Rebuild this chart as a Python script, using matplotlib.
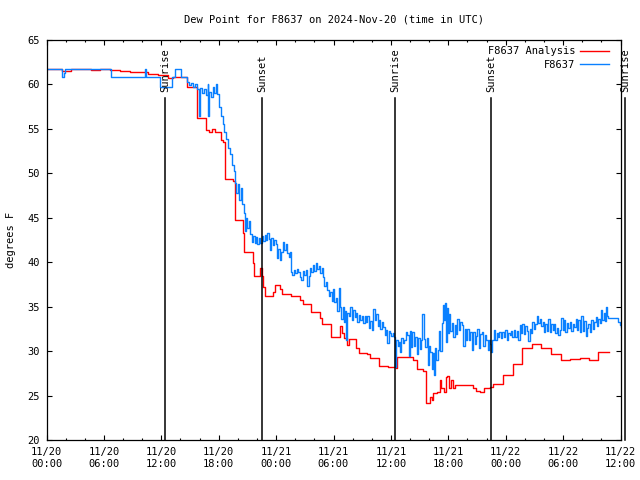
import numpy as np
import pandas as pd
import matplotlib
matplotlib.use("Agg")
import matplotlib.pyplot as plt
import matplotlib.dates as mdates

# ---------------- data (hours after 2024-11-20 00:00 UTC) ----------------
analysis_hours = [0, 1.6, 2.6, 4.7, 5.6, 6.65, 7.7, 8.7, 10.6, 11.65, 12.7, 13.2,
                  14.7, 15.7, 16.7, 17.0, 17.3, 17.6, 18.2, 18.4, 18.66, 19.5, 19.7,
                  20.57, 20.67, 21.55, 21.69, 22.3, 22.5, 22.6, 22.84, 23.7, 23.9,
                  24.4, 24.6, 25.6, 26.5, 26.8, 27.7, 28.6, 28.76, 29.7, 30.7, 30.9,
                  31.05, 31.4, 31.65, 32.4, 32.7, 33.5, 33.8, 34.8, 35.7, 36.5, 36.65,
                  38.3, 38.7, 39.4, 39.67, 40.1, 40.25, 40.4, 40.8, 41.1, 41.2, 41.5,
                  41.76, 41.9, 42.1, 42.3, 42.5, 42.7, 44.6, 44.9, 45.3, 45.7, 46.36,
                  46.7, 47.7, 48.75, 49.7, 50.75, 51.7, 52.7, 53.75, 54.75, 55.75,
                  56.7, 57.7, 58.8]
analysis_vals = [61.74, 61.55, 61.74, 61.67, 61.74, 61.62, 61.55, 61.36, 61.21, 61.03, 60.69, 60.8,
                 59.67, 56.2, 54.88, 54.7, 55.0, 54.7, 53.7, 53.56, 49.36, 49.1, 44.75,
                 43.25, 41.19, 39.88, 38.45, 39.3, 38.45, 37.25, 36.2, 36.6, 37.4,
                 37.0, 36.42, 36.2, 35.75, 35.3, 34.43, 33.7, 33.05, 31.6, 32.8, 32.0,
                 31.44, 30.69, 31.33, 30.3, 29.75, 29.7, 29.19, 28.33, 28.25, 28.1, 29.3,
                 29.0, 27.95, 27.8, 24.2, 24.8, 24.5, 25.3, 25.4, 26.75, 25.8, 25.4,
                 27.1, 27.2, 25.8, 26.75, 25.8, 26.15, 25.9, 25.5, 25.4, 25.9, 26.0,
                 26.3, 27.3, 28.6, 30.3, 30.8, 30.4, 29.7, 29.0, 29.1, 29.2,
                 29.0, 29.9, 29.9]

station_hours = [0, 1.65, 1.8, 1.9, 6.7, 10.3, 10.4, 11.85, 13.1, 13.4, 14.1,
                 14.7, 14.9, 15.1, 15.3, 15.5, 15.7, 15.95, 16.05, 16.25, 16.45, 16.65, 16.85,
                 16.9, 17.0, 17.2, 17.4, 17.55, 17.7, 17.85, 18.0, 18.2, 18.4, 18.6, 18.8,
                 19.0, 19.2, 19.4, 19.55, 19.7, 19.85, 20.0, 20.15, 20.3, 20.45, 20.6, 20.7,
                 20.85, 21.0, 21.15, 21.3, 21.45, 21.6, 21.75, 21.9, 22.05, 22.2, 22.35,
                 22.5, 22.65, 22.8, 22.95, 23.1, 23.25, 23.4, 23.5, 23.65, 23.8, 23.95,
                 24.1, 24.25, 24.4, 24.55, 24.7, 24.85, 25.0, 25.15, 25.3, 25.45, 25.55,
                 25.7, 25.85, 26.0, 26.15, 26.3, 26.5, 26.65, 26.8, 26.95, 27.1, 27.25,
                 27.4, 27.55, 27.7, 27.85, 28.0, 28.15, 28.3, 28.45, 28.6, 28.75, 28.9,
                 29.05, 29.2, 29.35, 29.5, 29.65, 29.8, 29.95, 30.1, 30.25, 30.4, 30.55,
                 30.65, 30.8, 30.95, 31.1, 31.25, 31.35, 31.45, 31.6, 31.75, 31.9, 32.05,
                 32.2, 32.35, 32.5, 32.65, 32.8, 32.95, 33.1, 33.25, 33.4, 33.55, 33.7,
                 33.85, 34.0, 34.15, 34.3, 34.45, 34.6, 34.75, 34.9, 35.05, 35.2, 35.35,
                 35.5, 35.6, 35.75, 35.9, 36.05, 36.2, 36.35, 36.45, 36.55, 36.7, 36.85,
                 37.0, 37.1, 37.25, 37.4, 37.55, 37.7, 37.85, 37.95, 38.1, 38.25, 38.4,
                 38.55, 38.7, 38.85, 39.0, 39.15, 39.3, 39.45, 39.6, 39.75, 39.85, 39.95,
                 40.1, 40.25, 40.4, 40.5, 40.6, 40.75, 40.9, 41.0, 41.15, 41.3, 41.45,
                 41.55, 41.65, 41.75, 41.85, 41.95, 42.05, 42.2, 42.35, 42.5, 42.65, 42.8,
                 42.95, 43.1, 43.25, 43.4, 43.55, 43.7, 43.85, 44.0, 44.15, 44.3, 44.45,
                 44.6, 44.75, 44.9, 45.05, 45.2, 45.35, 45.5, 45.65, 45.8, 45.95, 46.1,
                 46.25, 46.4, 46.5, 46.6, 46.75, 46.9, 47.05, 47.2, 47.35, 47.5, 47.65,
                 47.8, 47.95, 48.1, 48.25, 48.4, 48.55, 48.7, 48.85, 49.0, 49.15, 49.3,
                 49.45, 49.6, 49.75, 49.9, 50.05, 50.2, 50.35, 50.5, 50.65, 50.8, 50.95,
                 51.1, 51.25, 51.4, 51.55, 51.7, 51.85, 52.0, 52.15, 52.3, 52.45, 52.6,
                 52.75, 52.9, 53.05, 53.2, 53.35, 53.5, 53.65, 53.8, 53.95, 54.1, 54.25,
                 54.4, 54.55, 54.7, 54.85, 55.0, 55.15, 55.3, 55.45, 55.6, 55.75, 55.9,
                 56.05, 56.2, 56.35, 56.5, 56.65, 56.8, 56.95, 57.1, 57.25, 57.4, 57.55,
                 57.7, 57.85, 58.0, 58.1, 58.25, 58.4, 58.5, 58.6, 58.7, 59.75, 59.9, 60.0]
station_vals = [61.74, 60.8, 61.25, 61.74, 60.8, 61.74, 60.8, 59.75, 60.8, 61.74, 60.8,
                60.3, 59.9, 60.2, 59.7, 60.1, 59.5, 56.4, 59.6, 59.0, 59.5, 58.8, 60.1,
                56.5, 59.2, 58.6, 59.7, 59.0, 60.0, 58.9, 57.5, 56.4, 55.5, 54.6, 53.9,
                52.8, 52.2, 50.9, 50.3, 48.9, 47.8, 48.8, 47.0, 48.4, 46.6, 45.5, 43.5,
                45.0, 43.8, 44.6, 43.2, 42.3, 43.0, 42.2, 42.8, 42.0, 42.7, 42.2,
                42.9, 42.4, 43.1, 42.5, 43.3, 42.6, 41.4, 42.7, 41.9, 42.5, 42.0,
                40.5, 41.5, 40.25, 41.2, 42.3, 41.4, 42.0, 41.0, 40.6, 41.1, 38.9,
                38.6, 39.1, 38.8, 39.2, 38.9, 38.3, 38.0, 39.0, 38.6, 39.1, 37.3,
                38.5, 39.4, 38.9, 39.7, 39.0, 39.9, 39.2, 39.6, 38.8, 39.3, 38.3,
                37.3, 37.8, 36.9, 36.2, 36.6, 35.6, 37.0, 35.5, 36.0, 34.5, 37.1,
                35.0, 33.6, 35.0, 33.3, 34.5, 31.3, 34.3, 33.9, 35.0, 33.5, 34.6,
                33.8, 34.3, 33.3, 34.1, 33.5, 34.0, 33.2, 33.9, 33.3, 33.9, 32.6,
                33.4, 32.4, 34.7, 33.5, 34.2, 32.8, 33.5, 32.5, 33.3, 32.7, 31.8,
                32.4, 30.9, 32.3, 32.0, 31.7, 32.0, 31.6, 28.25, 31.2, 30.6, 31.0,
                29.9, 31.5, 30.9, 31.3, 32.1, 31.8, 29.4, 32.3, 30.5, 32.1, 30.6,
                31.6, 29.7, 31.5, 30.2, 31.2, 34.2, 31.4, 30.5, 31.5, 28.4, 30.6,
                29.9, 28.0, 29.8, 27.3, 30.4, 29.0, 30.1, 32.3, 30.0, 33.2, 35.2,
                33.5, 35.4, 31.0, 34.8, 32.0, 34.2, 32.3, 33.2, 31.6, 32.9, 31.9,
                33.6, 32.4, 33.3, 32.9, 30.6, 32.5, 31.2, 32.5, 31.3, 32.2, 30.1,
                32.1, 30.8, 31.7, 32.5, 30.4, 31.9, 32.1, 30.6, 31.8, 31.2, 30.1,
                31.3, 30.8, 29.9, 31.3, 32.4, 31.3, 32.0, 31.6, 32.2, 31.5, 32.1,
                31.6, 32.4, 31.3, 32.0, 31.8, 32.3, 31.6, 32.4, 31.6, 32.3, 31.2,
                32.9, 32.0, 33.0, 31.9, 32.8, 32.3, 31.1, 32.5, 32.0, 33.3, 32.5,
                33.1, 33.9, 33.2, 33.6, 32.8, 33.3, 32.2, 33.0, 32.3, 33.6, 32.1,
                33.0, 32.4, 33.1, 32.0, 32.6, 31.8, 32.4, 33.7, 32.4, 33.5, 32.1,
                33.2, 32.6, 33.3, 32.3, 33.0, 32.7, 33.6, 32.4, 33.5, 32.2, 34.0,
                32.3, 33.4, 31.7, 32.6, 33.0, 32.1, 33.5, 32.5, 33.3, 33.8, 32.8,
                33.6, 33.2, 34.6, 33.5, 34.3, 33.4, 35.0, 33.9, 33.7, 33.3, 32.9, 32.7]

event_hours = [12.42, 22.53, 36.45, 46.49, 60.5]
event_labels = ["Sunrise", "Sunset", "Sunrise", "Sunset", "Sunrise"]

title = "Dew Point for F8637 on 2024-Nov-20 (time in UTC)"
ylabel = "degrees F"
series_names = ["F8637 Analysis", "F8637"]
series_colors = ["#ff0000", "#0a80ff"]

# ---------------- plotting ----------------
base = pd.Timestamp("2024-11-20 00:00")
to_time = lambda hrs: base + pd.to_timedelta(np.asarray(hrs), unit="h")

plt.rcParams['font.family'] = ['DejaVu Sans Mono']
fs = 7.5

fig = plt.figure(figsize=(6.4, 4.8), dpi=100)
ax = fig.add_axes([46.5 / 640, 40 / 480, 574 / 640, 400 / 480])

ax.plot(to_time(analysis_hours), analysis_vals, drawstyle="steps-post",
        color=series_colors[0], lw=1.0, label=series_names[0])
ax.plot(to_time(station_hours), station_vals, drawstyle="steps-post",
        color=series_colors[1], lw=1.0, label=series_names[1])

for h, lab in zip(event_hours, event_labels):
    t = to_time([h])[0]
    ax.plot([t, t], [20, 58.45], color="black", lw=1.1, clip_on=False)
    ax.text(t, 59.1, lab, rotation=90, ha="center", va="bottom",
            fontsize=fs, clip_on=False)

ax.set_xlim(base, base + pd.Timedelta(hours=60))
ax.set_ylim(20, 65)
ax.set_yticks(np.arange(20, 66, 5))

ax.xaxis.set_major_locator(mdates.HourLocator(byhour=[0, 6, 12, 18]))
ax.xaxis.set_minor_locator(mdates.HourLocator(byhour=range(0, 24, 2)))
ax.xaxis.set_major_formatter(mdates.DateFormatter("%m/%d\n%H:%M"))

ax.tick_params(which="both", direction="in", top=True, right=True,
               labelsize=fs, width=0.8, pad=5)
ax.tick_params(which="major", length=3.5)
ax.tick_params(which="minor", length=1.6)
for s in ax.spines.values():
    s.set_linewidth(0.9)

ax.set_title(title, fontsize=fs, pad=12.5)
ax.set_ylabel(ylabel, fontsize=fs, labelpad=8)

leg = ax.legend(loc="upper right", frameon=False, markerfirst=False,
                fontsize=fs, handlelength=2.7, handletextpad=0.5,
                labelspacing=0.35, borderaxespad=0.2,
                bbox_to_anchor=(0.99, 1.0))

fig.savefig("out.png", dpi=100)
